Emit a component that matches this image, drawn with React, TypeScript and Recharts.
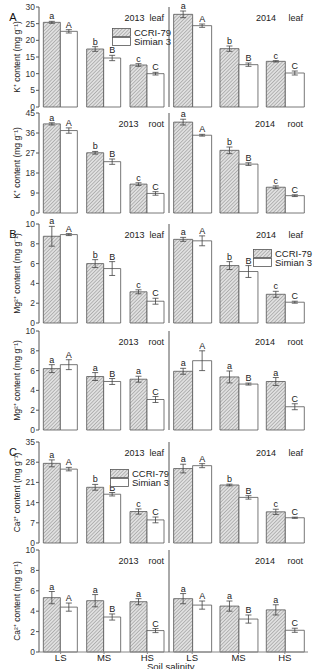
import { BarChart, Bar, XAxis, YAxis, ErrorBar, LabelList, Legend } from "recharts";

const categories = ["LS", "MS", "HS"];
const upperLetters = ["A", "B", "C"];
const lowerLetters = ["a", "b", "c"];
const sameLetters = ["a", "a", "a"];

// K+ leaf
const kLeaf13Ccri = [25.4, 17.4, 12.6];
const kLeaf13CcriErr = [0.3, 0.7, 0.4];
const kLeaf13Sim = [22.7, 14.7, 10.0];
const kLeaf13SimErr = [0.5, 0.8, 0.4];
const kLeaf14Ccri = [27.8, 17.5, 13.7];
const kLeaf14CcriErr = [1.0, 0.8, 0.2];
const kLeaf14Sim = [24.4, 12.7, 10.2];
const kLeaf14SimErr = [0.5, 0.5, 0.6];
// K+ root
const kRoot13Ccri = [40.1, 27.1, 13.0];
const kRoot13CcriErr = [0.5, 0.6, 0.6];
const kRoot13Sim = [37.1, 23.1, 8.8];
const kRoot13SimErr = [1.2, 1.2, 0.8];
const kRoot14Ccri = [40.9, 28.2, 11.6];
const kRoot14CcriErr = [1.3, 1.5, 0.6];
const kRoot14Sim = [35.0, 22.0, 7.8];
const kRoot14SimErr = [0.4, 0.6, 0.4];
// Mg2+ leaf
const mgLeaf13Ccri = [8.76, 6.0, 3.15];
const mgLeaf13CcriErr = [1.0, 0.4, 0.2];
const mgLeaf13Sim = [8.93, 5.5, 2.2];
const mgLeaf13SimErr = [0.1, 0.7, 0.3];
const mgLeaf14Ccri = [8.45, 5.8, 2.9];
const mgLeaf14CcriErr = [0.2, 0.4, 0.3];
const mgLeaf14Sim = [8.3, 5.2, 2.1];
const mgLeaf14SimErr = [0.5, 0.6, 0.1];
// Mg2+ root
const mgRoot13Ccri = [6.2, 5.4, 5.13];
const mgRoot13CcriErr = [0.4, 0.4, 0.3];
const mgRoot13Sim = [6.6, 4.9, 3.08];
const mgRoot13SimErr = [0.5, 0.3, 0.3];
const mgRoot14Ccri = [5.93, 5.36, 4.9];
const mgRoot14CcriErr = [0.3, 0.6, 0.4];
const mgRoot14Sim = [7.0, 4.64, 2.35];
const mgRoot14SimErr = [1.0, 0.1, 0.3];
// Ca2+ leaf
const caLeaf13Ccri = [27.6, 19.3, 10.9];
const caLeaf13CcriErr = [1.2, 1.0, 0.9];
const caLeaf13Sim = [25.6, 16.9, 8.0];
const caLeaf13SimErr = [0.6, 0.6, 1.0];
const caLeaf14Ccri = [25.8, 20.1, 10.8];
const caLeaf14CcriErr = [1.5, 0.3, 0.9];
const caLeaf14Sim = [26.8, 15.8, 8.75];
const caLeaf14SimErr = [0.7, 0.6, 0.2];
// Ca2+ root
const caRoot13Ccri = [5.33, 5.03, 4.93];
const caRoot13CcriErr = [0.6, 0.6, 0.3];
const caRoot13Sim = [4.4, 3.43, 2.1];
const caRoot13SimErr = [0.4, 0.3, 0.2];
const caRoot14Ccri = [5.23, 4.5, 4.13];
const caRoot14CcriErr = [0.5, 0.5, 0.5];
const caRoot14Sim = [4.6, 3.23, 2.13];
const caRoot14SimErr = [0.4, 0.4, 0.2];

const kLeafTicks = [0, 5, 10, 15, 20, 25, 30];
const kRootTicks = [0, 9, 18, 27, 36, 45];
const tenTicks = [0, 2, 4, 6, 8, 10];
const caLeafTicks = [0, 7, 14, 21, 28, 35];

const FONT = "'Liberation Sans', Arial, sans-serif";
const MT = 7;

const letterLabel = (vals: number[], errs: number[], letters: string[]) => (props: any) => {
  const vb = props.viewBox ?? props;
  const { x, y, width, height } = vb;
  const i = props.index;
  const pxPer = height / vals[i];
  const ty = y - errs[i] * pxPer - 2;
  return (
    <text x={x + width / 2} y={ty} textAnchor="middle" fontSize={9} fill="#222" fontFamily={FONT}>
      {letters[i]}
    </text>
  );
};

function Panel(props: any) {
  const { id, ccri, ccriErr, sim, simErr, low, side, top, plotH, ticks, title, legend, xLabels, yLabel, tag } = props;
  const data = categories.map((c, i) => ({
    cat: c,
    ccri: ccri[i],
    ccriErr: ccriErr[i],
    sim: sim[i],
    simErr: simErr[i],
  }));
  const isLeft = side === "left";
  const xh = xLabels ? 16 : 0;
  const mb = xLabels ? 0 : 4;
  const height = plotH + MT + mb + xh;
  const width = isLeft ? 175 : 160;
  const plotRight = isLeft ? 169 : 148;
  return (
    <div style={{ position: "absolute", left: isLeft ? 0 : 160, top: top - MT }}>
      <BarChart
        width={width}
        height={height}
        data={data}
        margin={{ top: MT, right: isLeft ? 6 : 12, left: 0, bottom: mb }}
        barCategoryGap="10%"
        barGap={0}
      >
        <defs>
          <pattern id={id} width={2.5} height={2.5} patternUnits="userSpaceOnUse" patternTransform="rotate(45)">
            <rect width={2.5} height={2.5} fill="#e0e0e0" />
            <line x1={0} y1={0} x2={0} y2={2.5} stroke="#808080" strokeWidth={0.9} />
          </pattern>
        </defs>
        <XAxis
          dataKey="cat"
          height={xh}
          stroke="#888"
          tickSize={2}
          tickMargin={0}
          tick={xLabels ? { fontSize: 9.5, fill: "#222", fontFamily: FONT } : false}
        />
        <YAxis
          width={isLeft ? 39 : 9}
          domain={[ticks[0], ticks[ticks.length - 1]]}
          ticks={ticks}
          interval={0}
          stroke="#555"
          tickSize={3}
          tickMargin={1}
          tick={isLeft ? { fontSize: 8.5, fill: "#333", fontFamily: FONT } : false}
          label={
            yLabel
              ? { value: yLabel, angle: -90, position: "center", dx: -3, fontSize: 8.5, fill: "#222", fontFamily: FONT }
              : undefined
          }
        />
        {!isLeft && (
          <YAxis
            yAxisId="frame"
            orientation="right"
            width={0}
            domain={[ticks[0], ticks[ticks.length - 1]]}
            ticks={ticks}
            stroke="#aaa"
            tickSize={2}
            tick={false}
          />
        )}
        <Bar dataKey="ccri" name="CCRI-79" fill={`url(#${id})`} stroke="#555" strokeWidth={0.8} isAnimationActive={false}>
          <ErrorBar dataKey="ccriErr" width={3} stroke="#444" strokeWidth={0.8} direction="y" />
          <LabelList dataKey="ccri" content={letterLabel(ccri, ccriErr, low)} />
        </Bar>
        <Bar dataKey="sim" name="Simian 3" fill="#ffffff" stroke="#555" strokeWidth={0.8} isAnimationActive={false}>
          <ErrorBar dataKey="simErr" width={3} stroke="#444" strokeWidth={0.8} direction="y" />
          <LabelList dataKey="sim" content={letterLabel(sim, simErr, upperLetters)} />
        </Bar>
        {legend && (
          <Legend
            layout="horizontal"
            verticalAlign="middle"
            align="center"
            wrapperStyle={{ left: legend[0], top: legend[1], width: "auto", height: "auto" }}
            content={() => (
              <div style={{ fontFamily: FONT, fontSize: 9.5, color: "#222", lineHeight: "9px" }}>
                {[
                  { name: "CCRI-79", fill: `url(#${id})` },
                  { name: "Simian 3", fill: "#ffffff" },
                ].map((it) => (
                  <div key={it.name} style={{ display: "flex", alignItems: "center", height: 9 }}>
                    <svg width={20} height={9} style={{ display: "block" }}>
                      <rect x={0.5} y={0.5} width={18} height={8} fill={it.fill} stroke="#555" strokeWidth={0.8} />
                    </svg>
                    <span style={{ marginLeft: 2 }}>{it.name}</span>
                  </div>
                ))}
              </div>
            )}
          />
        )}
        <text
          x={plotRight - 5}
          y={MT + 14}
          textAnchor="end"
          fontSize={9}
          fill="#222"
          fontFamily={FONT}
          style={{ whiteSpace: "pre" }}
        >
          {title}
        </text>
        {tag && (
          <text x={13} y={MT + 14} textAnchor="middle" fontSize={11} fill="#111" fontFamily={FONT}>
            {tag}
          </text>
        )}
      </BarChart>
    </div>
  );
}

export default function App() {
  const kLabel = "K⁺ content (mg g⁻¹)";
  const mgLabel = "Mg²⁺ content (mg g⁻¹)";
  const caLabel = "Ca²⁺ content (mg g⁻¹)";
  return (
    <div style={{ position: "absolute", left: 0, top: 0, width: 329, height: 669, background: "#fff", overflow: "hidden" }}>
      <Panel id="h1" side="left" top={7} plotH={100} ticks={kLeafTicks} yLabel={kLabel} tag="A"
        ccri={kLeaf13Ccri} ccriErr={kLeaf13CcriErr} sim={kLeaf13Sim} simErr={kLeaf13SimErr} low={lowerLetters}
        title="2013  leaf" legend={[112, 28]} />
      <Panel id="h2" side="right" top={7} plotH={100} ticks={kLeafTicks}
        ccri={kLeaf14Ccri} ccriErr={kLeaf14CcriErr} sim={kLeaf14Sim} simErr={kLeaf14SimErr} low={lowerLetters}
        title="2014     leaf" />
      <Panel id="h3" side="left" top={113} plotH={100} ticks={kRootTicks} yLabel={kLabel}
        ccri={kRoot13Ccri} ccriErr={kRoot13CcriErr} sim={kRoot13Sim} simErr={kRoot13SimErr} low={lowerLetters}
        title="2013    root" />
      <Panel id="h4" side="right" top={113} plotH={100} ticks={kRootTicks}
        ccri={kRoot14Ccri} ccriErr={kRoot14CcriErr} sim={kRoot14Sim} simErr={kRoot14SimErr} low={lowerLetters}
        title="2014     root" />
      <Panel id="h5" side="left" top={224} plotH={99} ticks={tenTicks} yLabel={mgLabel} tag="B"
        ccri={mgLeaf13Ccri} ccriErr={mgLeaf13CcriErr} sim={mgLeaf13Sim} simErr={mgLeaf13SimErr} low={lowerLetters}
        title="2013  leaf" />
      <Panel id="h6" side="right" top={224} plotH={99} ticks={tenTicks}
        ccri={mgLeaf14Ccri} ccriErr={mgLeaf14CcriErr} sim={mgLeaf14Sim} simErr={mgLeaf14SimErr} low={lowerLetters}
        title="2014     leaf" legend={[93, 32]} />
      <Panel id="h7" side="left" top={331} plotH={99} ticks={tenTicks} yLabel={mgLabel}
        ccri={mgRoot13Ccri} ccriErr={mgRoot13CcriErr} sim={mgRoot13Sim} simErr={mgRoot13SimErr} low={sameLetters}
        title="2013    root" />
      <Panel id="h8" side="right" top={331} plotH={99} ticks={tenTicks}
        ccri={mgRoot14Ccri} ccriErr={mgRoot14CcriErr} sim={mgRoot14Sim} simErr={mgRoot14SimErr} low={sameLetters}
        title="2014     root" />
      <Panel id="h9" side="left" top={442} plotH={101} ticks={caLeafTicks} yLabel={caLabel} tag="C"
        ccri={caLeaf13Ccri} ccriErr={caLeaf13CcriErr} sim={caLeaf13Sim} simErr={caLeaf13SimErr} low={lowerLetters}
        title="2013  leaf" legend={[110, 34]} />
      <Panel id="h10" side="right" top={442} plotH={101} ticks={caLeafTicks}
        ccri={caLeaf14Ccri} ccriErr={caLeaf14CcriErr} sim={caLeaf14Sim} simErr={caLeaf14SimErr} low={lowerLetters}
        title="2014     leaf" />
      <Panel id="h11" side="left" top={550} plotH={102} ticks={tenTicks} yLabel={caLabel}
        ccri={caRoot13Ccri} ccriErr={caRoot13CcriErr} sim={caRoot13Sim} simErr={caRoot13SimErr} low={sameLetters}
        title="2013    root" xLabels />
      <Panel id="h12" side="right" top={550} plotH={102} ticks={tenTicks}
        ccri={caRoot14Ccri} ccriErr={caRoot14CcriErr} sim={caRoot14Sim} simErr={caRoot14SimErr} low={sameLetters}
        title="2014     root" xLabels />
      <div style={{ position: "absolute", left: 147, top: 661, fontFamily: FONT, fontSize: 9.5, color: "#222", whiteSpace: "nowrap" }}>
        Soil salinity
      </div>
    </div>
  );
}
